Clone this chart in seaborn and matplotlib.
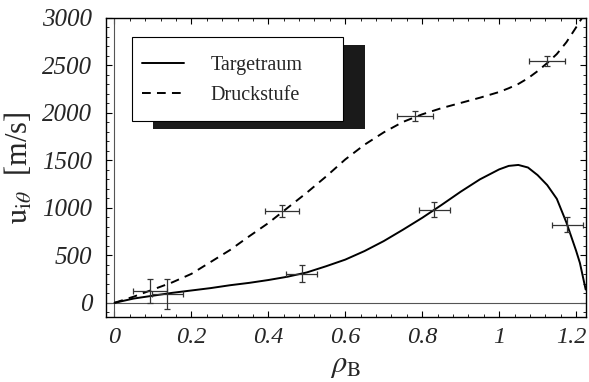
import numpy as np
import pandas as pd
import seaborn as sns
import matplotlib
matplotlib.use("Agg")
import matplotlib.pyplot as plt
from matplotlib.patches import Rectangle
from matplotlib.ticker import MultipleLocator
from matplotlib.transforms import ScaledTranslation

# Fitted velocity curves u_i_theta(rho_B) in m/s
rho_curve = [0.0, 0.05, 0.1, 0.15, 0.2, 0.25, 0.3, 0.35, 0.4, 0.45, 0.5, 0.55,
             0.6, 0.65, 0.7, 0.75, 0.8, 0.85, 0.9, 0.95, 1.0, 1.025, 1.05,
             1.075, 1.1, 1.125, 1.15, 1.175, 1.2, 1.21, 1.225]
u_target = [0, 45, 75, 105, 130, 155, 185, 210, 240, 275, 320, 385,
            455, 545, 650, 770, 895, 1030, 1170, 1300, 1405, 1442, 1452,
            1425, 1345, 1240, 1095, 845, 550, 420, 140]
u_druck = [0, 65, 140, 215, 305, 430, 555, 700, 840, 1000, 1160, 1330,
           1510, 1665, 1795, 1905, 1985, 2050, 2105, 2160, 2220, 2260, 2305,
           2365, 2440, 2525, 2620, 2745, 2900, 2965, 3060]

# Measured points with errors
rho_t = [0.137, 0.487, 0.831, 1.177]
u_t = [96, 304, 980, 822]
rho_t_err = [0.04, 0.04, 0.04, 0.04]
u_t_err = [160, 90, 80, 80]

rho_d = [0.092, 0.436, 0.782, 1.125]
u_d = [125, 970, 1970, 2547]
rho_d_err = [0.045, 0.045, 0.047, 0.047]
u_d_err = [125, 63, 52, 52]

labels = ["Targetraum", "Druckstufe"]

sns.set_theme(style="white")
plt.rcParams["font.family"] = ["Liberation Serif", "DejaVu Serif"]
plt.rcParams["mathtext.fontset"] = "stix"

curves = pd.concat([
    pd.DataFrame({"rho": rho_curve, "u": u_target, "Serie": labels[0]}),
    pd.DataFrame({"rho": rho_curve, "u": u_druck, "Serie": labels[1]}),
])

fig = plt.figure(figsize=(5.89, 3.82), dpi=100)
ax = fig.add_axes([0.180, 0.170, 0.815, 0.783])

# reference axes through the origin
ax.axhline(0, color="#555555", lw=0.8, zorder=1)
ax.axvline(0, color="#555555", lw=0.8, zorder=1)

sns.lineplot(data=curves, x="rho", y="u", hue="Serie", style="Serie",
             palette={labels[0]: "black", labels[1]: "black"},
             dashes={labels[0]: "", labels[1]: (4.5, 3.2)},
             linewidth=1.4, ax=ax, legend=True, zorder=3)

ax.errorbar(rho_t, u_t, xerr=rho_t_err, yerr=u_t_err, fmt="none",
            ecolor="#333333", elinewidth=0.9, capsize=2.5, capthick=0.9, zorder=4)
ax.errorbar(rho_d, u_d, xerr=rho_d_err, yerr=u_d_err, fmt="none",
            ecolor="#333333", elinewidth=0.9, capsize=2.5, capthick=0.9, zorder=4)

ax.set_xlim(-0.022, 1.226)
ax.set_ylim(-150, 3000)

ax.xaxis.set_minor_locator(MultipleLocator(0.04))
ax.yaxis.set_minor_locator(MultipleLocator(100))
ax.set_xticks([0, 0.2, 0.4, 0.6, 0.8, 1.0, 1.2])
ax.set_xticklabels(["0", "0.2", "0.4", "0.6", "0.8", "1", "1.2"])
ax.set_yticks([0, 500, 1000, 1500, 2000, 2500, 3000])
ax.set_yticklabels(["0", "500", "1000", "1500", "2000", "2500", "3000"])

ax.tick_params(which="both", direction="in", top=True, right=True,
               bottom=True, left=True, color="black")
ax.tick_params(which="major", length=4, width=0.8)
ax.tick_params(axis="y", which="major", pad=10, labelsize=18)
ax.tick_params(axis="x", which="major", pad=7, labelsize=17.5)
ax.tick_params(which="minor", length=2, width=0.6)
for lab in ax.get_xticklabels() + ax.get_yticklabels():
    lab.set_fontstyle("italic")
# keep the last x label inside the figure
last = ax.get_xticklabels()[-1]
last.set_transform(last.get_transform()
                   + ScaledTranslation(-5 / 100, 0, fig.dpi_scale_trans))

for sp in ax.spines.values():
    sp.set_color("black")
    sp.set_linewidth(1.0)

ax.set_xlabel(r"$\rho_{\mathrm{B}}$", fontsize=22, labelpad=2)
ax.set_ylabel(r"$\mathrm{u}_{\mathrm{i}\theta}$  [m/s]", fontsize=22, labelpad=5)

# legend with a box and offset drop shadow
handles, _ = ax.get_legend_handles_labels()
leg = ax.legend(handles=handles, labels=labels, frameon=False, loc="center left",
                bbox_to_anchor=(0.075, 0.790), borderpad=0, borderaxespad=0,
                handlelength=2.1, handletextpad=1.3, labelspacing=0.55,
                fontsize=14.5)
leg.set_zorder(7)
ax.add_patch(Rectangle((0.098, 0.629), 0.442, 0.281, transform=ax.transAxes,
                       facecolor="#1a1a1a", edgecolor="none", zorder=5))
ax.add_patch(Rectangle((0.054, 0.656), 0.440, 0.280, transform=ax.transAxes,
                       facecolor="white", edgecolor="black", lw=0.8, zorder=6))

fig.savefig("out.png", dpi=100)
